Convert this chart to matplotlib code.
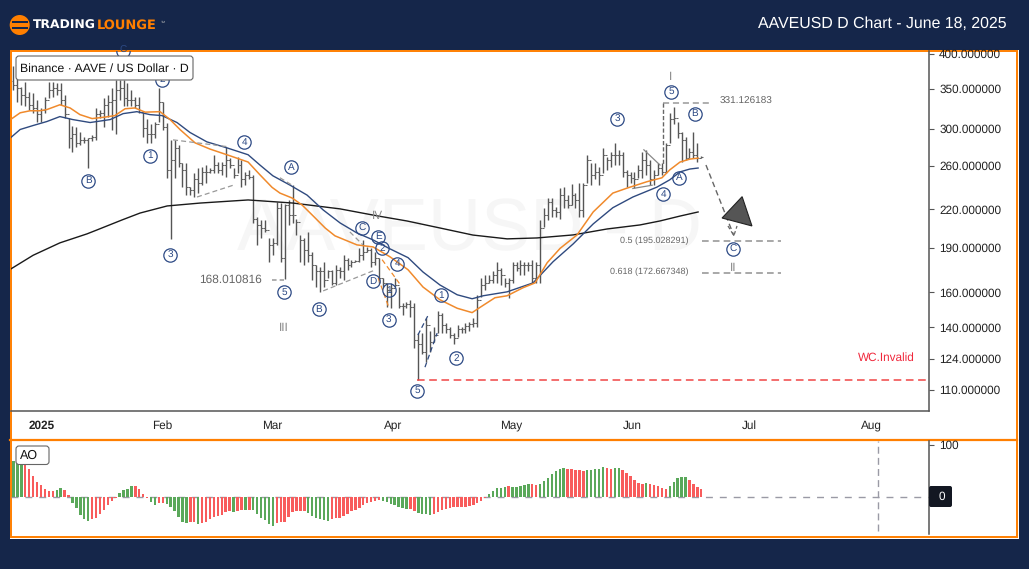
import matplotlib
matplotlib.use("Agg")
import matplotlib.pyplot as plt
from matplotlib.patches import Rectangle, Circle, FancyBboxPatch, Polygon
from matplotlib.ticker import NullLocator

plt.rcParams['font.family'] = ['Liberation Sans', 'DejaVu Sans']
plt.rcParams['text.hinting'] = 'no_hinting'

# ==========================================
# DATA (days counted from Jan 1 2025, prices in USD)
# ==========================================
first_day = -7

highs = [382, 365, 352, 359, 346, 344, 335, 325, 339, 359, 359, 358, 358, 342, 313, 303, 301.5, 296, 291, 290,
         292.5, 325, 323, 338, 342, 351, 362, 362, 362, 358, 348, 339, 339, 320, 311, 305, 308.5, 351, 333, 307,
         287.5, 287.5, 282, 263, 263, 239.5, 253, 258, 259, 261, 258, 271.5, 264, 264, 279.5, 268, 258, 269.5, 266, 254,
         256, 251, 213.5, 211.5, 211.5, 197.5, 197.5, 226.5, 225.5, 224.5, 228.5, 241.5, 212.5, 199.5, 197.5, 201.5, 186.5, 177.5, 176.5, 179.5,
         174.5, 174.5, 177.5, 176.5, 184.5, 182.5, 181.5, 181.5, 189.5, 195.5, 190.5, 189.5, 186.5, 182.5, 169.3, 165.9, 165.9, 169.3, 163.3, 153.8,
         154.3, 155.3, 153.3, 137, 137, 145, 138, 140, 149, 148, 142, 140, 137, 141, 140, 142, 142.6, 145, 158.3, 169.3,
         171.3, 171.3, 173.5, 180, 175.5, 169.3, 169.3, 180, 179.5, 181.5, 180, 180, 181.5, 180, 211.3, 221.5, 229.5, 229.5, 222.5, 238.5,
         239.5, 232.5, 242.5, 234.5, 244, 244, 271.5, 263, 263, 259, 278.5, 269.5, 274.5, 284.5, 276.5, 274.5, 256, 254, 254, 261,
         274.5, 276.5, 266, 256, 263, 263, 284.5, 319, 326.6, 308.5, 296, 291, 278.5, 296, 284.5, 270.5]
lows = [348, 332, 329, 328, 323, 319, 308, 308, 319, 338, 339, 342, 329, 313, 278.5, 274.5, 279.5, 282, 284.5, 258,
        286.5, 287.5, 313, 301.5, 314, 299, 294, 335, 327, 327, 327, 325, 319, 291, 283.5, 284.5, 290, 308.5, 299, 248.5,
        196.5, 248.5, 259, 239.5, 232.5, 232.5, 230.5, 234.5, 241.5, 244, 253, 253, 253, 251, 249, 258, 248.5, 253, 239.5, 241.5,
        247, 208.5, 192, 197.5, 201.5, 179.5, 184.5, 192, 180, 168.3, 207.5, 208.5, 199.5, 180, 177.5, 179.5, 167.8, 163.3, 160.3, 163.3,
        169.3, 164.3, 164.3, 169.3, 167.8, 174.5, 176.5, 179.5, 180, 181.5, 186.5, 176.5, 177.5, 165.9, 163.3, 151, 150.5, 163.3, 150.5, 146.5,
        150.5, 145.4, 129, 114.4, 126, 122.4, 127, 132, 137, 137, 137, 134, 131, 135, 137, 137, 138, 140, 140, 157.3,
        161.3, 165.9, 165.9, 165.9, 164.3, 163.3, 156.3, 165.9, 173.5, 171.3, 171.3, 173.5, 165.9, 165.9, 165.9, 205.5, 211.5, 213.5, 213.5, 212.5,
        221.5, 221.5, 223.5, 221.5, 213.5, 213.5, 244, 241.5, 247, 241.5, 253, 256, 259, 261, 261, 249, 239.5, 244, 238.5, 248.5,
        248.5, 251, 241.5, 241.5, 251, 251, 253, 284.5, 305, 290, 264, 266, 268, 268, 264, 268]
closes = [355, 351, 342, 339, 329, 325, 317, 323, 335, 348, 351, 348, 335, 317, 290, 294, 284.5, 287.5, 287.5, 290,
          291, 317, 319, 329, 332, 335, 348, 351, 338, 335, 335, 329, 320, 301, 294, 294, 305, 332, 301.5, 256,
          266, 278.5, 263, 256, 239.5, 237, 247, 244, 254, 254, 256, 261, 256, 261, 266, 261, 251, 261, 247, 251,
          249, 212.5, 207.5, 204.5, 203.5, 192, 193.5, 221.5, 182.5, 223.5, 215.5, 215.5, 209.5, 195.5, 188.5, 184.5, 177.5, 173.5, 173.5, 167.8,
          173.5, 165.9, 174.5, 173.5, 181.5, 177.5, 180, 180.5, 184.5, 186.5, 188.5, 180, 182.5, 169.3, 165.9, 161.3, 162.8, 164.3, 152, 152,
          153, 151, 133, 131, 127, 141, 132, 136, 146.5, 141, 139, 136, 134, 139, 139, 140.5, 141.6, 142, 155.3, 164.3,
          165.9, 167.8, 171.3, 174.5, 171.3, 165.9, 167.8, 177.5, 175.5, 177.5, 177.5, 177.5, 169.3, 177.5, 204.5, 215.5, 226.5, 219.5, 217.5, 232.5,
          228.5, 223.5, 232.5, 228.5, 219.5, 241.5, 266, 251, 254, 251, 271.5, 266, 271.5, 271.5, 271.5, 254, 251, 248.5, 247, 256,
          266, 261, 247, 251, 258, 254, 282, 311, 313, 295, 287.5, 268, 274.5, 271.5, 268, 269.5]
first_open = 360

orange_days = [-7.7, -5.3, -2.8, -0.3, 1.5, 4.8, 7.4, 9.9, 13, 16.3, 18.8, 21.4, 23.9, 26.5, 30.3, 32.8, 35.4, 39.2, 43, 48.1,
               52.7, 55.7, 58.8, 60.8, 63.9, 66.4, 69, 72.3, 74.8, 76.1, 80.4, 84.5, 88.8, 93.4, 97.2, 101.5, 105.9, 109.7, 111.7, 115.5,
               118.6, 122.6, 125.7, 128.8, 132.1, 136.4, 140.5, 145.5, 149.1, 154.2, 158, 160, 162.6, 165.1, 167.2]
orange_vals = [311, 319, 321.5, 321.5, 323, 329, 325, 316.8, 312, 313.8, 315.6, 324, 325, 319.8, 320.4, 311, 299, 284.2, 277.5, 270.4,
               264, 251.4, 239.5, 234.3, 229.9, 223.9, 215.4, 204.9, 198.8, 197.2, 192, 190.5, 183.4, 174.5, 163.3, 155.5, 150.5, 148, 151, 156.7,
               157.9, 162.8, 165.9, 179.3, 189.5, 199.5, 217.9, 234.3, 238.8, 244.8, 248.5, 256.2, 264, 267, 268]

blue_days = [-7.7, -5.3, -2, 1.5, 4.8, 8.1, 12.5, 17.6, 20.9, 24.4, 27.7, 30.8, 34.6, 37.9, 42.2, 47.3, 52.7, 55.7, 59, 63.4,
             67.7, 71.8, 76.1, 80.4, 84.5, 88.8, 93.4, 97.2, 101.5, 105.9, 109.7, 112.5, 118.6, 125.2, 130.3, 135.4, 140.5, 145.5, 150.6, 156.7,
             160, 162.6, 165.1, 167.2]
blue_vals = [290, 299.2, 303.8, 308.5, 314.4, 310.8, 307.3, 310.8, 318, 320.4, 316.8, 315.6, 307.3, 295.8, 285.3, 278.8, 271.5, 261, 250.4, 241.5,
             232.5, 219.6, 208.9, 201, 195.7, 189.1, 182.8, 173, 164.6, 158.5, 156.1, 157.9, 160.3, 165.9, 180, 192.7, 208.1, 221.5, 230.8, 239.7,
             246.6, 254.2, 257, 258]

black_days = [-7.7, -2, 4.8, 11.7, 14.2, 20.6, 25.2, 32.1, 40.5, 52.7, 64.1, 76.1, 85.5, 93.1, 101.5, 109.9, 118.6, 126.2, 135.4, 144,
              152.4, 157.5, 162.6, 167.2]
black_vals = [175, 184.5, 193.5, 200.3, 203.3, 211.3, 217, 223, 225.5, 228.2, 225.5, 220.5, 214.7, 210.5, 204.9, 199.4, 196.5, 197.2, 199.5, 204.1,
              207.3, 210.5, 214.5, 217.9]

ao_vals = [69.6, 68, 65, 62, 53, 40, 28, 23, 15, 11, 11, 13, 16, 13, 3,
           -12, -23, -36, -44, -47, -44, -41, -34, -26, -16, -8, -3, 6.5, 13, 15, 19.5, 19.5, 15, 5, -2,
           -10, -16, -13, -12, -14, -21, -29, -39, -49, -51, -49, -49, -53, -51, -49, -44, -40, -38, -36, -31,
           -29, -31, -28, -26, -27, -27, -26, -34, -41, -45, -54, -57, -51, -49, -49, -40, -31, -29, -28, -28,
           -32, -38, -41, -44, -45, -47, -44, -42, -41, -38, -34, -29, -26, -23, -16, -12, -10, -8, -6.5, -8.5,
           -11, -14, -17, -19.5, -23, -24, -25, -28, -32, -34, -34, -36, -34, -31, -27, -25, -23, -21, -21, -21,
           -21, -18, -16, -12, -8, -3, 5, 11, 16, 17, 19, 19.5, 19, 19, 21, 23, 25, 25, 23, 25,
           31, 36, 44, 49, 54, 56, 54, 54, 52, 52, 49, 52, 52, 54, 54, 58, 56, 54, 56, 56,
           52, 46, 40, 32.5, 27, 25, 27, 25, 23, 21, 17, 15, 21, 29, 36, 38, 38, 32.5, 25, 19, 15]
ao_signs = ("ggg" "rrrrrrrr" "gg" "rr" "ggggg" "rrrrrrr" "gggg" "rrrr" "gg" "rr" "gggggg" "rr" "g" "rrrrrrrr"
            "g" "rr" "g" "r" "gggggg" "rrrrrrrr" "gggggg" "rrrrrrrrrrrrr" "ggggggg" "rr" "gggg" "rrrrrrrrrrrrrr"
            "ggggg" "r" "ggggg" "rr" "ggggggg" "rrrrr" "ggggg" "rr" "gg" "rrrrrr" "g" "rrrrr" "ggggg" "rrrr")

price_ticks = [400, 350, 300, 260, 220, 190, 160, 140, 124, 110]
month_days = [0.2, 30.8, 58.8, 89.7, 119.7, 150.5, 180.2, 211.2]
month_labels = ["2025", "Feb", "Mar", "Apr", "May", "Jun", "Jul", "Aug"]

# wave labels: text, day, price
circle_labels = [("C", 20.9, 405), ("2", 30.8, 362), ("B", 12, 245.7), ("1", 27.7, 270.5), ("3", 32.8, 184.5),
                 ("4", 51.7, 285), ("A", 63.6, 259), ("5", 61.8, 160.3), ("B", 70.7, 150), ("C", 81.7, 204.5),
                 ("E", 85.8, 198), ("2", 86.8, 189.5), ("4", 90.6, 178.5), ("D", 84.5, 167), ("1", 88.5, 161.3),
                 ("3", 88.5, 143.7), ("1", 101.8, 158.3), ("2", 105.6, 124.3), ("5", 95.7, 109.6), ("3", 146.6, 311),
                 ("4", 158.3, 233.5), ("A", 162.3, 248.5), ("5", 160.3, 346), ("B", 166.4, 318), ("C", 176.1, 189.1)]
roman_labels = [("I", 160.3, 366), ("II", 176.1, 175.5), ("III", 61.8, 139.7), ("IV", 85.5, 214.5)]

level_high = 331.126183
level_low = 168.010816
fib_50 = 195.028291
fib_618 = 172.667348
invalid_level = 114.4

# trend lines: day0, price0, day1, price1, colour, style
trend_lines = [(33.6, 287.5, 47.6, 280, '#999999', '--'), (39.7, 230.8, 48.9, 241.5, '#999999', '--'),
               (60.8, 248.5, 63.9, 241.5, '#999999', '--'), (71.8, 160.9, 84.5, 173.8, '#999999', '--'),
               (78.6, 201.8, 81.9, 192, '#999999', '--'), (86.8, 181.4, 91.3, 165.2, '#f08a2c', '--'),
               (85.8, 169.1, 88.5, 151, '#f08a2c', '--'), (97.7, 120, 100.8, 136.8, '#2f4a7f', '--'),
               (95.9, 135.8, 98.5, 146.5, '#2f4a7f', '--'), (153.4, 276.7, 157.5, 261, '#888888', '-'),
               (150.6, 238.5, 155.5, 241.5, '#888888', '-')]

arrow_days = [169.2, 176.3]
arrow_prices = [261, 198.9]
arrow_head_days = [174.8, 176.3, 177.1]
arrow_head_prices = [206.5, 198.9, 206.5]
triangle_days = [173.3, 178.4, 180.9]
triangle_prices = [212.9, 231.1, 206.5]

# ==========================================
# FIGURE AND PANELS
# ==========================================
W, H = 1029, 569
NAVY = '#15264a'
ORANGE = '#ff7f00'
AXIS = '#555555'
WAVE = '#2d4a85'
GREY_TXT = '#666666'

fig = plt.figure(figsize=(W / 100, H / 100), dpi=100, facecolor=NAVY)


def axes_px(x0, y0, x1, y1):
    return fig.add_axes([x0 / W, 1 - y1 / H, (x1 - x0) / W, (y1 - y0) / H])


bg = axes_px(0, 0, W, H)
bg.set_xlim(0, W)
bg.set_ylim(H, 0)
bg.axis('off')
bg.add_patch(Rectangle((10, 50), 1009, 489, fc='white', ec='none'))
bg.add_patch(Rectangle((10.7, 50.7), 1006, 486, fc='none', ec=ORANGE, lw=1.4))
bg.plot([10, 1017], [440, 440], color=ORANGE, lw=1.6)

# logo
bg.add_patch(Circle((19.7, 25), 10, fc=ORANGE, ec='none'))
for sy in (21.8, 28.2):
    bg.add_patch(Rectangle((12, sy - 0.9), 15.5, 1.8, fc=NAVY, ec='none'))
bg.text(33, 25.3, "TRADING", color='white', fontsize=8.9, fontweight='bold', va='center', family='DejaVu Sans')
bg.text(97, 25.3, "LOUNGE", color=ORANGE, fontsize=9.4, fontweight='bold', va='center', family='DejaVu Sans')
bg.text(161, 22, "TM", color='#bbbbbb', fontsize=2.5, va='center')

bg.text(1007, 24, "AAVEUSD D Chart - June 18, 2025", color='white', fontsize=11.4, ha='right', va='center')

# ==========================================
# PRICE PANE
# ==========================================
ax = axes_px(10.7, 50.7, 929, 411)
ax.patch.set_alpha(0)
ax.set_yscale('log')
ax.set_ylim(101.4, 405)
ax.set_xlim(-7.71, 225.95)
for side in ('top', 'left'):
    ax.spines[side].set_visible(False)
for side in ('right', 'bottom'):
    ax.spines[side].set_color(AXIS)
    ax.spines[side].set_linewidth(1.1)

ax.yaxis.tick_right()
ax.yaxis.set_minor_locator(NullLocator())
ax.set_yticks(price_ticks)
ax.set_yticklabels(["%.6f" % p for p in price_ticks], fontsize=8.5, color='#222222')
ax.tick_params(axis='y', length=3.5, width=0.8, color=AXIS, pad=3.8, which='major')
ax.set_xticks(month_days)
ax.set_xticklabels(month_labels, fontsize=8.5, color='#222222')
ax.get_xticklabels()[0].set_fontweight('bold')
ax.tick_params(axis='x', length=0, pad=6.3)

ax.text(0.5, 0.5, "AAVEUSD - D", transform=ax.transAxes, fontsize=53, color='#f6f6f6',
        ha='center', va='center', zorder=0)

# OHLC bars
days = list(range(first_day, first_day + len(closes)))
opens = [first_open] + closes[:-1]
ax.vlines(days, lows, highs, color='#555555', lw=1.0, zorder=2)
ax.hlines(opens, [d - 0.5 for d in days], days, color='#666666', lw=0.75, zorder=2)
ax.hlines(closes, days, [d + 0.5 for d in days], color='#666666', lw=0.75, zorder=2)

# moving averages
ax.plot(black_days, black_vals, color='#1a1a1a', lw=1.0, zorder=3)
ax.plot(blue_days, blue_vals, color='#2f4a7f', lw=1.0, zorder=3)
ax.plot(orange_days, orange_vals, color='#f08a2c', lw=1.1, zorder=3)

# levels
ax.plot([158.3, 170.5], [level_high, level_high], color='#999999', lw=1.1, ls=(0, (4, 2.5)), zorder=3)
ax.plot([158.3, 158.3], [level_high, 261], color='#666666', lw=1.0, ls=(0, (3, 1.5)), zorder=3)
ax.plot([58.8, 61.8], [level_low, level_low], color='#999999', lw=1.1, ls=(0, (3, 2)), zorder=3)
ax.plot([168.3, 188.3], [fib_50, fib_50], color='#999999', lw=1.2, ls=(0, (4, 2.5)), zorder=3)
ax.plot([168.3, 188.3], [fib_618, fib_618], color='#999999', lw=1.2, ls=(0, (4, 2.5)), zorder=3)
ax.plot([95.7, 225.9], [invalid_level, invalid_level], color='#f04545', lw=1.1, ls=(0, (5, 3)), zorder=3)

for d0, p0, d1, p1, col, style in trend_lines:
    ax.plot([d0, d1], [p0, p1], color=col, lw=0.9, ls=(0, (4, 2.5)) if style == '--' else '-', zorder=3)

ax.plot(arrow_days, arrow_prices, color='#666666', lw=1.0, ls=(0, (4, 2.5)), zorder=3)
ax.plot(arrow_head_days, arrow_head_prices, color='#666666', lw=0.9, ls=(0, (3, 2)), zorder=3)
ax.add_patch(Polygon(list(zip(triangle_days, triangle_prices)), closed=True, fc='#555555', ec='#222222', lw=0.8, zorder=4))

# labels
ax.text(56.3, level_low, "168.010816", color=GREY_TXT, fontsize=8.6, ha='right', va='center', zorder=5)
ax.text(172.8, level_high * 1.006, "331.126183", color=GREY_TXT, fontsize=7.2, ha='left', va='center', zorder=5)
ax.text(164.7, fib_50, "0.5 (195.028291)", color=GREY_TXT, fontsize=6.5, ha='right', va='center', zorder=5)
ax.text(164.7, fib_618 * 1.004, "0.618 (172.667348)", color=GREY_TXT, fontsize=6.5, ha='right', va='center', zorder=5)
ax.text(222.2, 124.3, "WC.Invalid", color='#f0283c', fontsize=8.5, ha='right', va='center', zorder=5)

for txt, d, p in circle_labels:
    ax.plot([d], [p], marker='o', ms=9.6, mfc='none', mec=WAVE, mew=0.9, zorder=5)
    ax.text(d, p, txt, color=WAVE, fontsize=7.2, ha='center', va='center', zorder=5)
for txt, d, p in roman_labels:
    ax.text(d, p, txt, color='#888888', fontsize=8.5, ha='center', va='center', zorder=5)

# ==========================================
# AO PANE
# ==========================================
ao = axes_px(10.7, 441, 929, 534)
ao.patch.set_alpha(0)
ao.set_xlim(-7.71, 225.95)
ao.set_ylim(-72.8, 107.8)
for side in ('top', 'left', 'bottom'):
    ao.spines[side].set_visible(False)
ao.spines['right'].set_color(AXIS)
ao.spines['right'].set_linewidth(1.1)
ao.set_xticks([])
ao.yaxis.tick_right()
ao.set_yticks([100])
ao.set_yticklabels(["100"], fontsize=8.5, color='#222222')
ao.tick_params(axis='y', length=3.5, width=0.8, color=AXIS, pad=3.8)

ao.axhline(0, color='#9a9aa5', lw=1.0, ls=(0, (5, 5)), zorder=1)
ao.axvline(213, ymin=0.03, color='#9a9aa5', lw=1.0, ls=(0, (5, 3)), zorder=1)
bar_colors = ['#5aa85a' if s == 'g' else '#f85c5c' for s in ao_signs]
for b in ao.bar(days, ao_vals, width=0.62, color=bar_colors, linewidth=0, zorder=2):
    b.set_snap(True)

# ==========================================
# BOXES ON TOP
# ==========================================
top = axes_px(0, 0, W, H)
top.set_xlim(0, W)
top.set_ylim(H, 0)
top.axis('off')
top.patch.set_alpha(0)
top.add_patch(FancyBboxPatch((16, 56), 177, 24, boxstyle="round,pad=0,rounding_size=3", fc='white', ec='#666666', lw=0.8))
top.text(20, 68.5, "Binance \u00b7 AAVE / US Dollar \u00b7 D", fontsize=8.8, color='#111111', va='center')
top.add_patch(FancyBboxPatch((16, 446), 33, 18.5, boxstyle="round,pad=0,rounding_size=3", fc='white', ec='#666666', lw=0.8))
top.text(20, 455.5, "AO", fontsize=9, color='#111111', va='center')
top.add_patch(FancyBboxPatch((929, 486), 23, 21, boxstyle="round,pad=0,rounding_size=2", fc='#131722', ec='none'))
top.text(942, 497, "0", fontsize=8.5, color='white', ha='center', va='center')

fig.savefig("out.png", dpi=100, facecolor=NAVY)
